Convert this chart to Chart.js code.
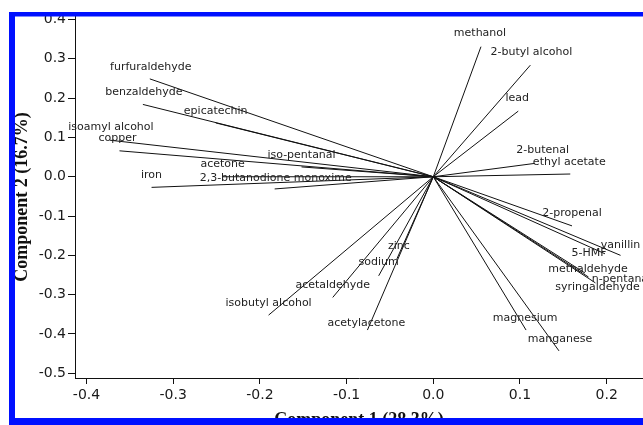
<!DOCTYPE html>
<html><head><meta charset="utf-8">
<script src="https://cdn.jsdelivr.net/npm/chart.js@4/dist/chart.umd.min.js"></script>
<style>html,body{margin:0;padding:0;background:#fff;overflow:hidden}#wrap{width:643px;height:425px;position:relative}</style>
</head><body><div id="wrap"><canvas id="c" width="643" height="425"></canvas></div>
<script>
// ---- data (loadings on component 1 and component 2) ----
const variables = ["methanol","2-butyl alcohol","lead","2-butenal","ethyl acetate","2-propenal","vanillin","5-HMF","methaldehyde","syringaldehyde","n-pentanal","zinc","sodium","acetaldehyde","isobutyl alcohol","acetylacetone","magnesium","manganese","furfuraldehyde","benzaldehyde","epicatechin","isoamyl alcohol","copper","iso-pentanal","acetone","2,3-butanodione monoxime","iron"];
const comp1 = [0.055,0.112,0.098,0.117,0.158,0.160,0.216,0.198,0.175,0.179,0.187,-0.042,-0.063,-0.116,-0.190,-0.076,0.107,0.145,-0.327,-0.335,-0.251,-0.373,-0.362,-0.152,-0.243,-0.183,-0.325];
const comp2 = [0.331,0.284,0.167,0.034,0.007,-0.125,-0.200,-0.196,-0.245,-0.255,-0.270,-0.209,-0.252,-0.307,-0.352,-0.390,-0.390,-0.443,0.249,0.184,0.137,0.093,0.066,0.025,0.000,-0.031,-0.027];
const xTicks = [-0.4,-0.3,-0.2,-0.1,0.0,0.1,0.2];
const yTicks = [0.4,0.3,0.2,0.1,0.0,-0.1,-0.2,-0.3,-0.4,-0.5];
const xTitle = "Component 1 (28.3%)";
const yTitle = "Component 2 (16.7%)";

// ---- label placement (pixel offsets from each vector tip) ----
const labelDx = [-1,1,-1,8,-1,0,0,-16,3,9,26,2,0,0,0,-1,-1,1,1,1,0,1,-2,0,0,1,0];
const labelDy = [-14,-13,-13,-13,-12,-13,-10,-1,-4,10,-4,-13,-14,-12,-12,-7,-12,-12,-12,-12,-12,-13,-13,-12,-13,-11,-12];

const datasets = variables.map((name, i) => ({
  label: name,
  data: [{x: 0, y: 0}, {x: comp1[i], y: comp2[i]}],
  borderColor: '#111', borderWidth: 1, pointRadius: 0, fill: false, tension: 0
}));

const decor = {
  id: 'decor',
  afterDatasetsDraw(chart) {
    const ctx = chart.ctx, xs = chart.scales.x, ys = chart.scales.y;
    ctx.save();
    ctx.font = '11px "DejaVu Sans"';
    ctx.fillStyle = '#222';
    ctx.textAlign = 'center';
    ctx.textBaseline = 'middle';
    variables.forEach((name, i) => {
      const px = xs.getPixelForValue(comp1[i]) + labelDx[i];
      const py = ys.getPixelForValue(comp2[i]) + labelDy[i];
      ctx.fillText(name, px, py);
    });
    ctx.restore();
  },
  afterDraw(chart) {
    const ctx = chart.ctx, ca = chart.chartArea;
    ctx.save();
    ctx.fillStyle = '#111';
    ctx.font = 'bold 18px "Liberation Serif"';
    ctx.textAlign = 'center';
    ctx.textBaseline = 'alphabetic';
    ctx.fillText(xTitle, (ca.left + ca.right) / 2, 425);
    ctx.translate(27, (ca.top + ca.bottom) / 2);
    ctx.rotate(-Math.PI / 2);
    ctx.fillText(yTitle, 0, 0);
    ctx.restore();
    // blue frame of the figure
    ctx.save();
    ctx.fillStyle = '#0010ff';
    ctx.fillRect(9, 12, 643, 4.5);
    ctx.fillRect(9, 12, 6, 413);
    ctx.fillRect(9, 418, 643, 7);
    ctx.restore();
  }
};

const tickFont = {family: '"DejaVu Sans"', size: 14};

new Chart(document.getElementById('c'), {
  type: 'line',
  data: {datasets},
  options: {
    responsive: false,
    animation: false,
    devicePixelRatio: 1,
    layout: {padding: {top: 16, right: 0, bottom: 0, left: 0}},
    plugins: {legend: {display: false}, tooltip: {enabled: false}},
    scales: {
      x: {
        type: 'linear', min: -0.4133, max: 0.2419,
        afterBuildTicks: s => { s.ticks = xTicks.map(v => ({value: v})); },
        afterFit: s => { s.height = 47; },
        ticks: {font: tickFont, color: '#1a1a1a', padding: 3, callback: v => v.toFixed(1), maxRotation: 0},
        grid: {drawOnChartArea: false, drawTicks: true, tickLength: 6, color: '#111'},
        border: {display: true, color: '#111', width: 1}
      },
      y: {
        type: 'linear', min: -0.512, max: 0.409,
        afterBuildTicks: s => { s.ticks = yTicks.map(v => ({value: v})); },
        afterFit: s => { s.width = 75; },
        ticks: {font: tickFont, color: '#1a1a1a', padding: 2, callback: v => v.toFixed(1)},
        grid: {drawOnChartArea: false, drawTicks: true, tickLength: 7, color: '#111'},
        border: {display: true, color: '#111', width: 1}
      }
    }
  },
  plugins: [decor]
});
</script>
</body></html>
